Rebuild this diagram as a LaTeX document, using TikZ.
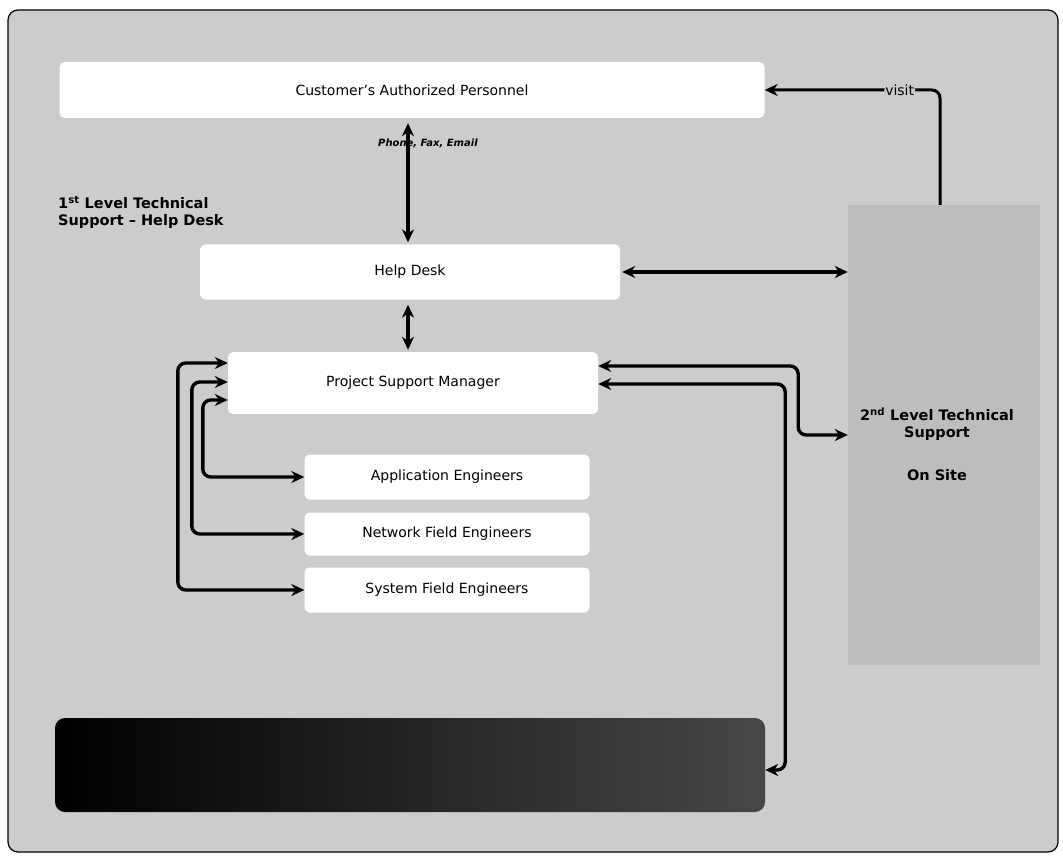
\documentclass[tikz,border=0pt]{standalone}
\usepackage{fontspec}
\setmainfont{DejaVu Sans}
\usetikzlibrary{arrows.meta}
\definecolor{bgcol}{gray}{0.80}
\definecolor{panelcol}{gray}{0.74}
\begin{document}
\begin{tikzpicture}[x=1pt,y=-1pt,
  box/.style={fill=white, rounded corners=5pt, inner sep=0pt, font=\fontsize{14}{16}\selectfont},
  lbl/.style={font=\bfseries\fontsize{14.5}{16.5}\selectfont, inner sep=0pt},
  con/.style={line width=3.4pt, rounded corners=8pt, {Stealth[length=13pt,width=12pt]}-{Stealth[length=13pt,width=12pt]}},
  con1/.style={line width=3pt, rounded corners=8pt, -{Stealth[length=13pt,width=12pt]}}]
\useasboundingbox (0,0) rectangle (1063,861);
\fill[white] (0,0) rectangle (1063,861);
\node[draw=black, line width=1.2pt, fill=bgcol, rounded corners=10pt, minimum width=1050pt, minimum height=842pt] (frame) at (533,431) {};
\node[fill=panelcol, inner sep=0pt, minimum width=192pt, minimum height=460pt] (panel) at (944,435) {};
\node[box, minimum width=705pt, minimum height=56pt] (cust) at (412,90) {Customer's Authorized Personnel};
\node[box, minimum width=420pt, minimum height=55pt] (help) at (410,272) {Help Desk};
\node[box, minimum width=370pt, minimum height=62pt] (psm) at (413,383) {Project Support Manager};
\node[box, minimum width=285pt, minimum height=45pt] (app) at (447,477) {Application Engineers};
\node[box, minimum width=285pt, minimum height=43pt] (net) at (447,534) {Network Field Engineers};
\node[box, minimum width=285pt, minimum height=45pt] (sys) at (447,590) {System Field Engineers};
\node[rounded corners=10pt, left color=black, right color=black!72, minimum width=710pt, minimum height=94pt] (bot) at (410,765) {};
\node[lbl, anchor=north west, align=left] (l1) at (58,196) {1\textsuperscript{st} Level Technical\\Support -- Help Desk};
\node[lbl, align=center] (l2) at (937,424) {2\textsuperscript{nd} Level Technical\\Support};
\node[lbl] (l3) at (937,475) {On Site};
\node[font=\bfseries\itshape\fontsize{10}{11}\selectfont, inner sep=0pt] (pfe) at (428,143) {Phone, Fax, Email};
% connectors
\draw[con, shorten <=2pt, shorten >=5pt] (help.north -| 408,0) -- (cust.south -| 408,0);
\draw[con, shorten <=5pt, shorten >=2pt] (help.south -| 408,0) -- (psm.north -| 408,0);
\draw[con, shorten <=2pt] (help.east) -- (help.east -| panel.west);
\draw[con] ([yshift=20pt]psm.west) -- ++(-50,0) |- (sys.west);
\draw[con] ([yshift=1pt]psm.west) -- ++(-36,0) |- (net.west);
\draw[con] ([yshift=-17pt]psm.west) -- ++(-25,0) |- (app.west);
\draw[con] ([yshift=17pt]psm.east) -- ++(200,0) |- (panel.west);
\draw[con] ([yshift=-1pt]psm.east) -- ++(187,0) |- ([yshift=-5pt]bot.east);
\draw[con1] (panel.north -| 940,0) |- node[pos=0.615, fill=bgcol, inner sep=1pt, font=\fontsize{14}{16}\selectfont] (visit) {visit} (cust.east);
\end{tikzpicture}
\end{document}
